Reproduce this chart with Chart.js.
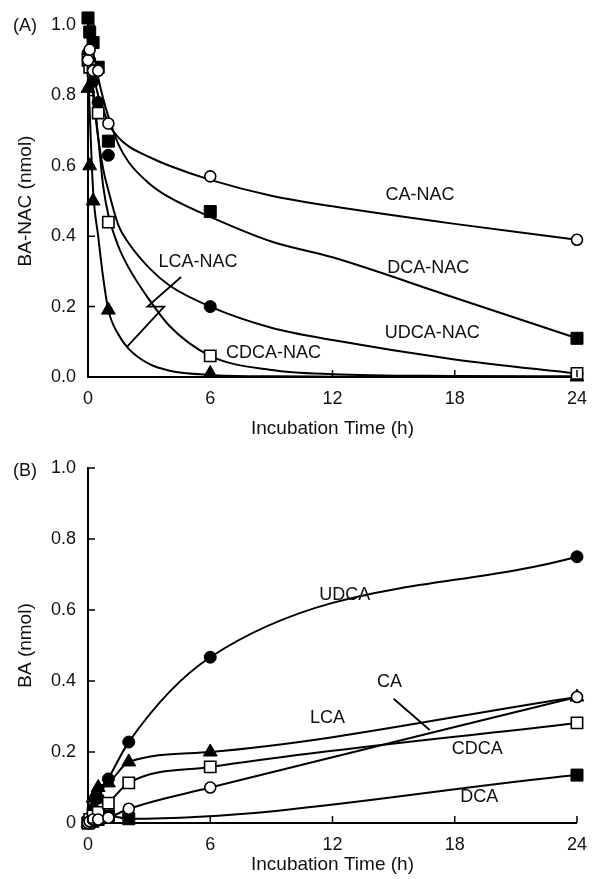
<!DOCTYPE html>
<html>
<head>
<meta charset="utf-8">
<script src="https://cdn.jsdelivr.net/npm/chart.js@4/dist/chart.umd.min.js"></script>
<style>
  html, body { margin: 0; padding: 0; background: #fff; }
  #wrap { position: relative; width: 598px; height: 879px; }
  canvas { position: absolute; left: 0; }
  #ca { top: 0; }
  #cb { top: 445px; }
  .tag { position: absolute; left: 13px; font: 18px "Liberation Sans", Arial, sans-serif; color: #111; line-height: 20px; }
</style>
</head>
<body>
<div id="wrap">
  <canvas id="ca" width="598" height="445"></canvas>
  <canvas id="cb" width="598" height="434"></canvas>
  <div class="tag" style="top:15px">(A)</div>
  <div class="tag" style="top:460px">(B)</div>
</div>
<script>
"use strict";

// Panel A: BA-NAC remaining (nmol) — measured points
const timesA = [0, 0.083, 0.25, 0.5, 1, 6, 24];
const caNac   = [0.90, 0.93, 0.87, 0.87, 0.72, 0.57, 0.39];
const dcaNac  = [1.02, 0.98, 0.95, 0.88, 0.67, 0.47, 0.11];
const udcaNac = [0.92, 0.90, 0.84, 0.78, 0.63, 0.20, 0.01];
const cdcaNac = [0.90, 0.88, 0.87, 0.75, 0.44, 0.06, 0.01];
const lcaNac  = [0.82, 0.60, 0.50, null, 0.19, 0.01, 0.00];

// Panel A: fitted curves
const fitTimesA  = [0, 0.25, 0.5, 0.75, 1, 1.5, 2, 3, 4, 6, 9, 12, 18, 24];
const caNacFit   = [0.92, 0.86, 0.80, 0.76, 0.72, 0.68, 0.655, 0.625, 0.60, 0.56, 0.515, 0.485, 0.435, 0.39];
const dcaNacFit  = [1.00, 0.92, 0.85, 0.79, 0.74, 0.66, 0.61, 0.55, 0.51, 0.455, 0.385, 0.34, 0.225, 0.11];
const udcaNacFit = [0.93, 0.80, 0.68, 0.59, 0.53, 0.43, 0.38, 0.31, 0.26, 0.20, 0.14, 0.105, 0.05, 0.01];
const cdcaNacFit = [0.93, 0.82, 0.68, 0.54, 0.46, 0.37, 0.31, 0.22, 0.145, 0.06, 0.02, 0.008, 0.003, 0.002];
const lcaNacFit  = [0.88, 0.53, 0.40, 0.28, 0.19, 0.12, 0.08, 0.037, 0.018, 0.006, 0.002, 0.001, 0, 0];

// Panel B: free BA formed (nmol)
const timesB = [0, 0.083, 0.25, 0.5, 1, 2, 6, 24];
const udca = [0, 0.01, 0.04, 0.07, 0.124, 0.228, 0.467, 0.75];
const lca  = [0, 0.02, 0.07, 0.10, 0.113, 0.172, 0.20, 0.355];
const cdca = [0, 0.01, 0.02, 0.03, 0.056, 0.113, 0.158, 0.282];
const ca   = [0, 0.005, 0.01, 0.01, 0.015, 0.04, 0.10, 0.355];
const dca  = [0, 0.003, 0.005, 0.01, 0.02, 0.012, null, 0.135];

const xTicks = [0, 6, 12, 18, 24];

const FONT = "'Liberation Sans', Arial, sans-serif";
Chart.defaults.font.family = FONT;
Chart.defaults.font.size = 18;
Chart.defaults.color = "#111";

const pts = (xs, ys) => xs.map((x, i) => ({ x, y: ys[i] })).filter((p) => p.y !== null);

// marker styles: filled / open, circle / square / triangle
const MARK = {
  openCircle:   { pointStyle: "circle",   pointRadius: 5.5, backgroundColor: "#fff", borderWidth: 1.6 },
  fillCircle:   { pointStyle: "circle",   pointRadius: 6,   backgroundColor: "#000", borderWidth: 1 },
  openSquare:   { pointStyle: "rect",     pointRadius: 8,   backgroundColor: "#fff", borderWidth: 1.6 },
  fillSquare:   { pointStyle: "rect",     pointRadius: 8.5, backgroundColor: "#000", borderWidth: 1 },
  fillTriangle: { pointStyle: "triangle", pointRadius: 8,   backgroundColor: "#000", borderWidth: 1 },
};

function markers(xs, ys, style) {
  const m = MARK[style];
  return {
    data: pts(xs, ys),
    showLine: false,
    pointStyle: m.pointStyle,
    pointRadius: m.pointRadius,
    pointHoverRadius: m.pointRadius,
    pointBackgroundColor: m.backgroundColor,
    pointBorderColor: "#000",
    pointBorderWidth: m.borderWidth,
    clip: false,
    order: 0,
  };
}

function curve(xs, ys) {
  return {
    data: pts(xs, ys),
    showLine: true,
    borderColor: "#000",
    borderWidth: 2,
    pointRadius: 0,
    pointHoverRadius: 0,
    cubicInterpolationMode: "monotone",
    spanGaps: true,
    clip: false,
    order: 1,
  };
}

// tick marks pointing into the plot, as in the original
const inwardTicks = {
  id: "inwardTicks",
  afterDraw(chart) {
    const { ctx, scales: { x, y }, chartArea } = chart;
    ctx.save();
    ctx.strokeStyle = "#000";
    ctx.lineWidth = 1.5;
    ctx.beginPath();
    for (const t of x.ticks) {
      const px = x.getPixelForValue(t.value);
      ctx.moveTo(px, chartArea.bottom);
      ctx.lineTo(px, chartArea.bottom - 7);
    }
    for (const t of y.ticks) {
      const py = y.getPixelForValue(t.value);
      ctx.moveTo(chartArea.left, py);
      ctx.lineTo(chartArea.left + 7, py);
    }
    ctx.stroke();
    ctx.restore();
  },
};

// series names and leader lines, placed in data units
const notes = {
  id: "notes",
  afterDatasetsDraw(chart, args, opts) {
    const { ctx, scales: { x, y } } = chart;
    ctx.save();
    ctx.fillStyle = "#111";
    ctx.font = "18px " + FONT;
    ctx.textAlign = "center";
    ctx.textBaseline = "middle";
    for (const t of opts.texts || []) {
      ctx.fillText(t.text, x.getPixelForValue(t.x), y.getPixelForValue(t.y));
    }
    ctx.strokeStyle = "#000";
    ctx.lineWidth = 1.8;
    for (const path of opts.leaders || []) {
      ctx.beginPath();
      path.forEach((p, i) => {
        const px = x.getPixelForValue(p[0]);
        const py = y.getPixelForValue(p[1]);
        i ? ctx.lineTo(px, py) : ctx.moveTo(px, py);
      });
      ctx.stroke();
    }
    ctx.restore();
  },
};

function makeChart(canvas, cfg) {
  return new Chart(canvas, {
    type: "scatter",
    data: { datasets: cfg.datasets },
    options: {
      responsive: false,
      animation: false,
      events: [],
      layout: { padding: { top: cfg.padTop, right: 16, left: 0, bottom: 0 } },
      plugins: {
        legend: { display: false },
        tooltip: { enabled: false },
        notes: { texts: cfg.texts, leaders: cfg.leaders },
      },
      scales: {
        x: {
          type: "linear",
          min: 0, max: 24,
          afterBuildTicks: (s) => { s.ticks = xTicks.map((v) => ({ value: v })); },
          afterFit: (s) => { s.height = cfg.xHeight; },
          grid: { display: false, drawTicks: false },
          border: { display: true, color: "#000", width: 2 },
          ticks: { padding: 11, color: "#111", font: { size: 18 } },
          title: { display: true, text: "Incubation Time (h)", color: "#111",
                   font: { size: 19 }, padding: { top: 0, bottom: cfg.xTitlePad } },
        },
        y: {
          min: 0, max: 1,
          afterFit: (s) => { s.width = 88; },
          grid: { display: false, drawTicks: false },
          border: { display: true, color: "#000", width: 2 },
          ticks: { stepSize: 0.2, padding: 12, color: "#111", font: { size: 18 }, callback: cfg.yFmt },
          title: { display: true, text: cfg.yTitle, color: "#111",
                   font: { size: 19 }, padding: { top: 14, bottom: 0 } },
        },
      },
    },
    plugins: [inwardTicks, notes],
  });
}

makeChart(document.getElementById("ca"), {
  padTop: 25, xHeight: 68, xTitlePad: 5,
  yTitle: "BA-NAC (nmol)",
  yFmt: (v) => v.toFixed(1),
  datasets: [
    curve(fitTimesA, caNacFit),
    curve(fitTimesA, dcaNacFit),
    curve(fitTimesA, udcaNacFit),
    curve(fitTimesA, cdcaNacFit),
    curve(fitTimesA, lcaNacFit),
    markers(timesA, caNac, "openCircle"),
    markers(timesA, cdcaNac, "openSquare"),
    markers(timesA, udcaNac, "fillCircle"),
    markers(timesA, dcaNac, "fillSquare"),
    markers(timesA, lcaNac, "fillTriangle"),
  ],
  texts: [
    { text: "CA-NAC", x: 16.3, y: 0.517 },
    { text: "DCA-NAC", x: 16.7, y: 0.31 },
    { text: "UDCA-NAC", x: 16.9, y: 0.125 },
    { text: "CDCA-NAC", x: 9.1, y: 0.068 },
    { text: "LCA-NAC", x: 5.4, y: 0.327 },
  ],
  leaders: [
    [[4.57, 0.284], [2.92, 0.20], [3.74, 0.20], [1.9, 0.085]],
  ],
});

makeChart(document.getElementById("cb"), {
  padTop: 23, xHeight: 56, xTitlePad: 3,
  yTitle: "BA (nmol)",
  yFmt: (v) => (v === 0 ? "0" : v.toFixed(1)),
  datasets: [
    curve(timesB, udca),
    curve(timesB, lca),
    curve(timesB, cdca),
    curve(timesB, ca),
    curve(timesB, dca),
    markers(timesB, ca, "openCircle"),
    markers(timesB, cdca, "openSquare"),
    markers(timesB, dca, "fillSquare"),
    markers(timesB, lca, "fillTriangle"),
    markers(timesB, udca, "fillCircle"),
  ],
  texts: [
    { text: "UDCA", x: 12.6, y: 0.642 },
    { text: "CA", x: 14.8, y: 0.397 },
    { text: "LCA", x: 11.76, y: 0.296 },
    { text: "CDCA", x: 19.1, y: 0.208 },
    { text: "DCA", x: 19.2, y: 0.073 },
  ],
  leaders: [
    [[15.0, 0.35], [16.77, 0.262]],
  ],
});
</script>
</body>
</html>
